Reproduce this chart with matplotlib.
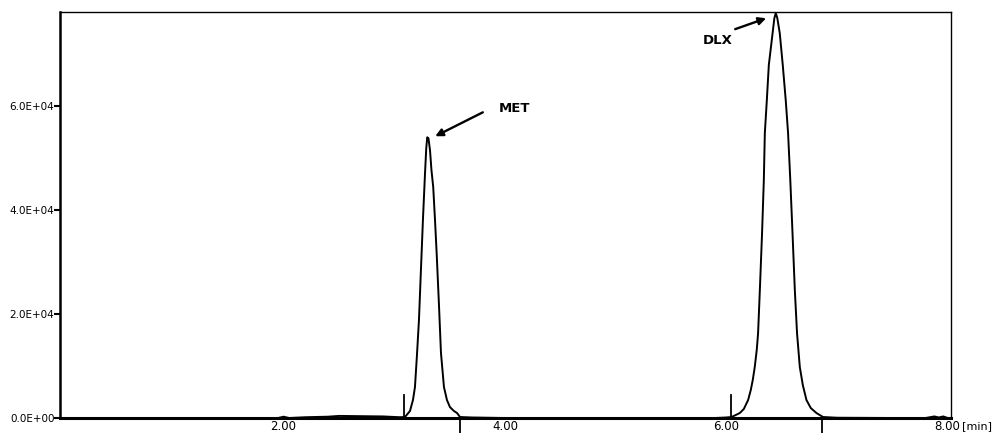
import matplotlib
matplotlib.use("Agg")
import matplotlib.pyplot as plt
from matplotlib.ticker import FuncFormatter

# chromatogram trace (time in min, signal)
trace_time = [0.00, 0.50, 1.00, 1.50, 1.95, 2.00, 2.05, 2.20, 2.40, 2.50, 2.70, 2.90, 3.00, 3.05,
              3.097, 3.142, 3.169, 3.187, 3.205, 3.223, 3.241, 3.259, 3.277, 3.289, 3.298, 3.309,
              3.323, 3.336, 3.352, 3.368, 3.383, 3.404, 3.422, 3.449, 3.476, 3.503, 3.539, 3.567,
              3.594, 3.70, 4.00, 4.50, 5.00, 5.50, 5.90, 6.00,
              6.047, 6.086, 6.122, 6.158, 6.197, 6.221, 6.239, 6.257, 6.275, 6.287, 6.303, 6.323,
              6.339, 6.348, 6.366, 6.384, 6.418, 6.434, 6.447, 6.461, 6.483, 6.510, 6.537, 6.558,
              6.578, 6.598, 6.619, 6.639, 6.664, 6.691, 6.724, 6.763, 6.814, 6.874,
              7.00, 7.50, 7.80, 7.88, 7.92, 7.96, 8.00, 8.03]
trace_signal = [0, 0, 0, 0, 0, 250, 0, 150, 250, 400, 350, 300, 200, 150,
                190, 1350, 3460, 5960, 12100, 18800, 28500, 38100, 46700, 51900, 54000, 53800,
                51500, 47700, 44400, 38100, 31700, 21700, 12500, 5960, 3460, 2100, 1350, 960,
                190, 100, 0, 0, 0, 0, 0, 100,
                190, 580, 960, 1730, 3460, 5380, 7310, 9810, 13100, 16300, 24600, 35600,
                45800, 54800, 61100, 67900, 74000, 76900, 77900, 76900, 74000, 67900, 61100, 54800,
                45800, 35600, 24600, 16300, 9810, 6350, 3460, 1920, 960, 190,
                50, 0, 0, 300, 100, 300, 0, 0]

y_ticks = [0, 20000, 40000, 60000]
x_ticks = [2.0, 4.0, 6.0, 8.0]

# integration start / end markers
start_marks = [3.09, 6.04]
end_marks = [3.594, 6.86]

peak_labels = ["MET", "DLX"]
peak_tips = [(3.37, 54200), (6.36, 76900)]
label_pos = [(4.09, 59600), (5.92, 72700)]
arrow_tails = [(3.80, 58800), (6.08, 74800)]

fig = plt.figure(figsize=(9.95, 4.33), dpi=100)
ax = fig.add_axes([60 / 995, 15 / 433, 891 / 995, 406 / 433])

ax.plot(trace_time, trace_signal, color="black", lw=1.4, clip_on=False, zorder=3)

for t in start_marks:
    ax.plot([t, t], [0, 4400], color="black", lw=1.3, clip_on=False)
for t in end_marks:
    ax.plot([t, t], [0, -2900], color="black", lw=1.3, clip_on=False)

for name, tip, pos, tail in zip(peak_labels, peak_tips, label_pos, arrow_tails):
    ax.annotate("", xy=tip, xytext=tail,
                arrowprops=dict(arrowstyle="-|>", color="black", lw=1.7, mutation_scale=11,
                                shrinkA=0, shrinkB=0))
    ax.text(pos[0], pos[1], name, ha="center", va="center", fontsize=9.5,
            fontweight="bold", family="DejaVu Sans")

ax.set_xlim(-0.02, 8.03)
ax.set_ylim(0, 78100)

ax.set_yticks(y_ticks)
ax.yaxis.set_major_formatter(FuncFormatter(lambda v, p: "%.1E" % v))
ax.set_xticks(x_ticks)
ax.xaxis.set_major_formatter(FuncFormatter(lambda v, p: "%.2f" % v))
ax.tick_params(axis="y", length=4, width=1.5, pad=0, labelsize=7.5, direction="out")
ax.tick_params(axis="x", length=0, pad=1.5, labelsize=8.5)

ax.annotate("[min]", xy=(1, 0), xycoords="axes fraction", xytext=(11, -3),
            textcoords="offset pixels", ha="left", va="top", fontsize=8)

for side in ["top", "right"]:
    ax.spines[side].set_linewidth(1.0)
ax.spines["left"].set_linewidth(1.8)
ax.spines["bottom"].set_linewidth(2.2)

fig.savefig("out.png", dpi=100)
